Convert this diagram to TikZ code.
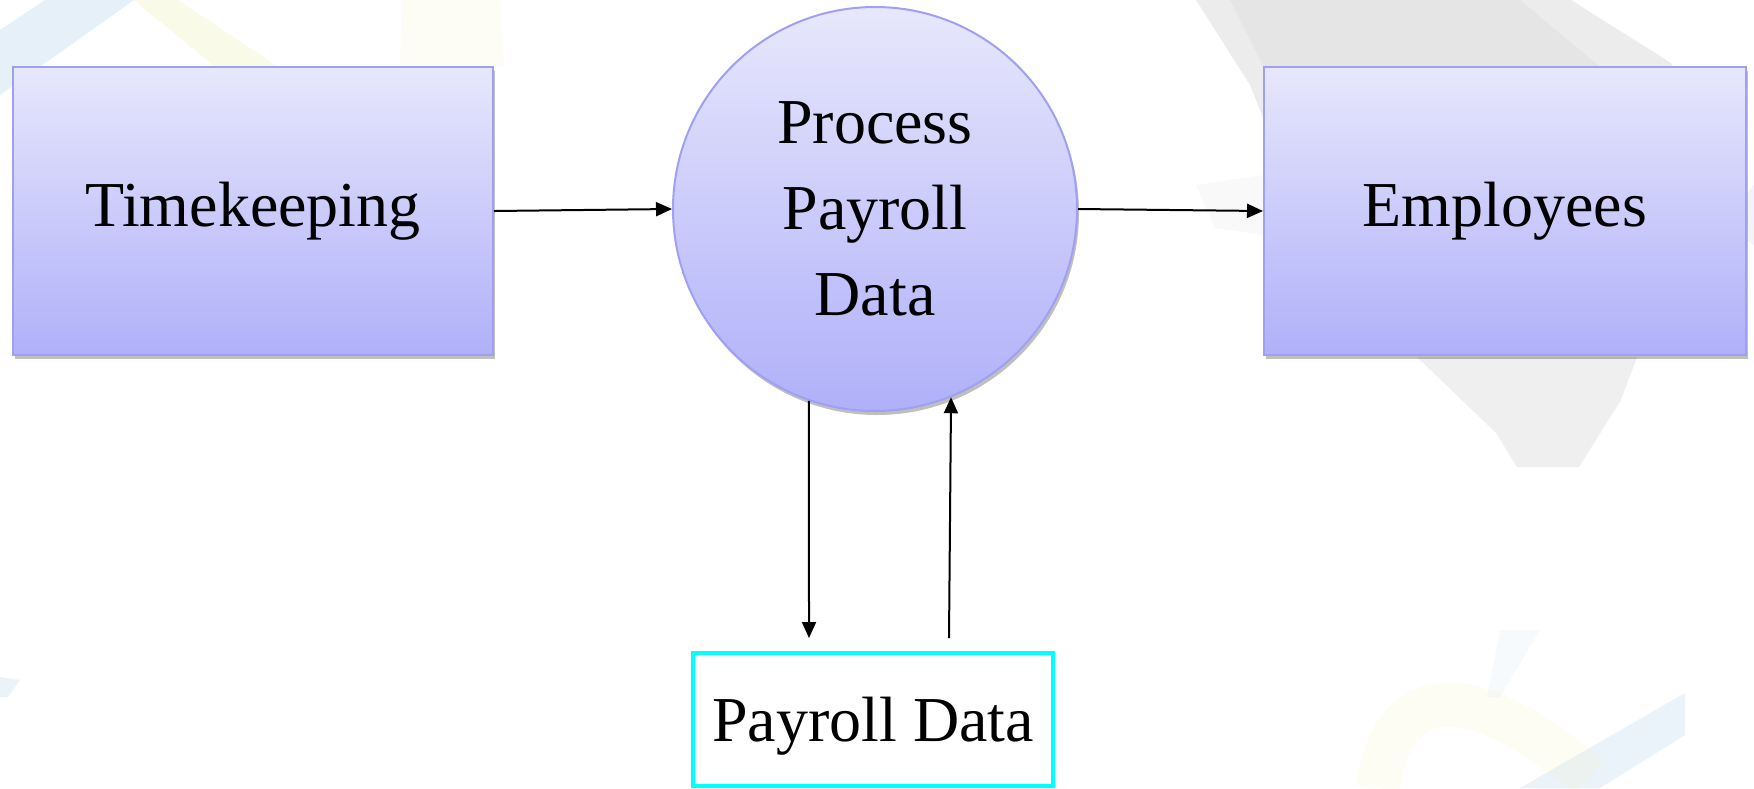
\documentclass[tikz,border=0pt]{standalone}
\usepackage{fontspec}
\setmainfont{Liberation Serif}
\usetikzlibrary{arrows.meta,shadows,positioning}

\definecolor{boxtop}{RGB}{231,231,252}
\definecolor{boxbot}{RGB}{176,176,250}
\definecolor{boxline}{RGB}{160,160,242}
\definecolor{storeline}{RGB}{0,255,255}
\definecolor{wmblue}{RGB}{214,230,246}
\definecolor{wmyellow}{RGB}{246,246,205}
\definecolor{wmgray}{RGB}{150,150,150}

\tikzset{
  entity/.style={draw=boxline, line width=1pt, top color=boxtop, bottom color=boxbot,
    minimum width=#1, minimum height=144pt, inner sep=0pt,
    drop shadow={shadow xshift=1pt, shadow yshift=-2pt, opacity=0.25, fill=black},
    font=\fontsize{32}{43}\selectfont},
  process/.style={circle, draw=boxline, line width=1pt, top color=boxtop, bottom color=boxbot,
    minimum size=202pt, inner sep=0pt, align=center,
    drop shadow={shadow xshift=1pt, shadow yshift=-2pt, opacity=0.25, fill=black},
    font=\fontsize{32}{43}\selectfont},
  datastore/.style={draw=storeline, line width=2pt, fill=white,
    minimum width=180pt, minimum height=66.5pt, inner sep=0pt, text depth=0pt,
    font=\fontsize{32}{43}\selectfont},
  flow/.style={draw=black, line width=1pt, -{Triangle[length=8pt,width=7pt]}},
  wm/.style={opacity=#1, draw=none},
}

\begin{document}
\begin{tikzpicture}[x=0.5pt, y=-0.5pt]
  \useasboundingbox (0,0) rectangle (1754,788);
  \fill[white] (0,0) rectangle (1754,788);

  % faint background artwork: top left
  \fill[wm=0.6, wmblue] (0,30) -- (45,0) -- (134,0) -- (0,95) -- cycle;
  \fill[wm=0.45, wmyellow] (134,0) -- (178,0) -- (277,66) -- (214,66) -- cycle;
  \fill[wm=0.2, wmyellow] (402,0) -- (500,0) -- (504,66) -- (400,66) -- cycle;
  \fill[wm=0.5, wmblue] (0,677) -- (20,680) -- (8,697) -- (0,697) -- cycle;

  % faint background artwork: top right
  \fill[wm=0.18, wmgray] (1196,0) -- (1571,0) -- (1671,63) -- (1700,120) -- (1264,120) -- (1250,85) -- cycle;
  \fill[wm=0.08, wmgray] (1230,0) -- (1520,0) -- (1600,67) -- (1264,67) -- cycle;
  \fill[wm=0.05, wmgray] (1196,185) -- (1264,175) -- (1264,235) -- (1215,228) -- cycle;
  \fill[wm=0.1, wmgray] (1746,195) -- (1754,185) -- (1754,245) -- (1746,240) -- cycle;
  \fill[wm=0.15, wmgray] (1417,357) -- (1637,357) -- (1621,400) -- (1579,467) -- (1517,467) -- (1496,433) -- cycle;

  % faint background artwork: bottom right
  \fill[wm=0.5, wmblue] (1685,693) -- (1685,735) -- (1600,788) -- (1520,788) -- cycle;
  \fill[wm=0.2, wmblue] (1500,630) -- (1540,630) -- (1500,697) -- (1487,697) -- cycle;
  \draw[wm=0.22, draw=wmyellow, line width=22pt] (1378,788) .. controls (1390,700) and (1450,660) .. (1590,778);

  % external entities, process and data store
  \node[entity=240pt] (tk) at (253,211) {Timekeeping};
  \node[entity=241pt] (emp) at (1505,211) {Employees};
  \node[process] (proc) at (875,209) {Process\\Payroll\\Data};
  \node[datastore] (pd) at (873,719.5) {Payroll Data};

  % free ends of the store flows
  \coordinate (inA) at (809,638);
  \coordinate (outA) at (949,638);

  % data flows
  \draw[flow] (tk.east) -- (proc.west);
  \draw[flow] (proc.east) -- (emp.west);
  \draw[flow] (proc.-109) -- (inA);
  \draw[flow] (outA) -- (proc.-68.5);
\end{tikzpicture}
\end{document}
